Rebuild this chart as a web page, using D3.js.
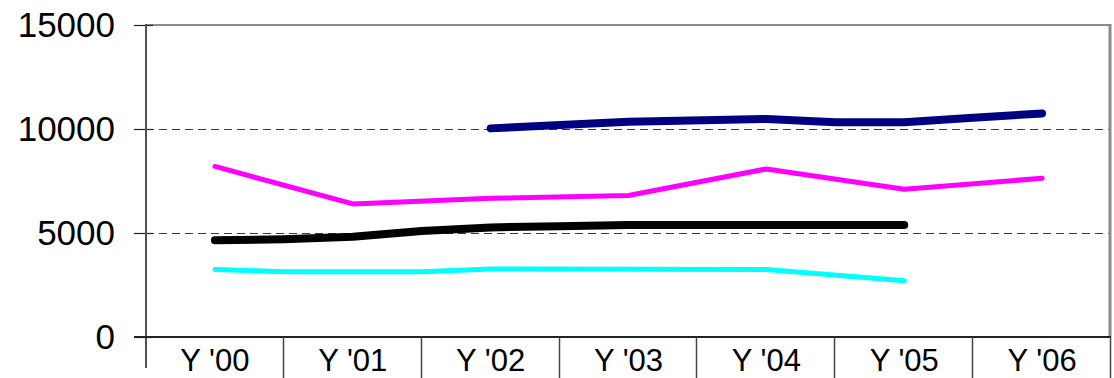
<!DOCTYPE html>
<html>
<head>
<meta charset="utf-8">
<script src="https://cdn.jsdelivr.net/npm/d3@7"></script>
<style>
  html, body { margin: 0; padding: 0; background: #fff; }
  svg { display: block; font-family: "Liberation Sans", Arial, sans-serif; }
</style>
</head>
<body>
<svg id="chart" width="1114" height="378"></svg>
<script>
// Year categories along the bottom axis
const years = ["Y '00", "Y '01", "Y '02", "Y '03", "Y '04", "Y '05", "Y '06"];
const yTicks = [0, 5000, 10000, 15000];
const gridValues = [5000, 10000];

// Each series: position in years from Y '00 (half-year steps allowed) and value
const navyAt      = [2, 3, 4, 4.5, 5, 5.5, 6];
const navyValues  = [10030, 10350, 10480, 10320, 10320, 10540, 10750];

const magentaAt     = [0, 1, 2, 3, 4, 5, 6];
const magentaValues = [8200, 6400, 6670, 6800, 8080, 7100, 7630];

const blackAt     = [0, 0.5, 1, 1.5, 2, 2.5, 3, 5];
const blackValues = [4650, 4700, 4820, 5100, 5270, 5320, 5380, 5380];

const cyanAt     = [0, 0.5, 1.5, 2, 4, 5];
const cyanValues = [3250, 3140, 3140, 3270, 3250, 2700];

const series = [
  { at: cyanAt,    values: cyanValues,    color: "#00ffff", width: 5 },
  { at: blackAt,   values: blackValues,   color: "#000000", width: 8 },
  { at: magentaAt, values: magentaValues, color: "#ff00ff", width: 5 },
  { at: navyAt,    values: navyValues,    color: "#000080", width: 8 }
];

const plot = { left: 146, right: 1111, top: 25, bottom: 337 };

const svg = d3.select("#chart");

const band = d3.scaleBand().domain(years).range([plot.left, plot.right]).padding(0);
const x = d3.scaleLinear().domain([-0.5, years.length - 0.5]).range([plot.left, plot.right]);
const y = d3.scaleLinear().domain([0, 15000]).range([plot.bottom, plot.top]);

// Dashed horizontal gridlines
svg.append("g")
  .selectAll("line")
  .data(gridValues)
  .join("line")
  .attr("x1", plot.left).attr("x2", plot.right - 2)
  .attr("y1", d => Math.round(y(d)) + 0.5).attr("y2", d => Math.round(y(d)) + 0.5)
  .attr("stroke", "#3a3a3a")
  .attr("stroke-width", 1.2)
  .attr("stroke-dasharray", "8,5");

// Series lines
const line = d3.line()
  .x(d => x(d[0]))
  .y(d => y(d[1]));

svg.append("g")
  .selectAll("path")
  .data(series)
  .join("path")
  .attr("d", s => line(s.at.map((t, i) => [t, s.values[i]])))
  .attr("fill", "none")
  .attr("stroke", s => s.color)
  .attr("stroke-width", s => s.width)
  .attr("stroke-linejoin", "round")
  .attr("stroke-linecap", "round");

// Plot frame: grey top and right edges
svg.append("line")
  .attr("x1", plot.left).attr("x2", plot.right)
  .attr("y1", plot.top).attr("y2", plot.top)
  .attr("stroke", "#8c8c8c").attr("stroke-width", 2);
svg.append("line")
  .attr("x1", plot.right - 1).attr("x2", plot.right - 1)
  .attr("y1", plot.top - 1).attr("y2", plot.bottom)
  .attr("stroke", "#8c8c8c").attr("stroke-width", 3);

// Value axis on the left
const yAxis = svg.append("g")
  .attr("transform", `translate(${plot.left},0)`)
  .call(d3.axisLeft(y).tickValues(yTicks).tickSize(12).tickSizeOuter(0).tickPadding(19).tickFormat(d3.format("d")));
yAxis.select(".domain").remove();
yAxis.selectAll(".tick line")
  .attr("x2", -12).attr("x1", 7)
  .attr("stroke", "#222").attr("stroke-width", 1.2);
yAxis.selectAll(".tick text")
  .attr("font-size", 35)
  .attr("fill", "#000")
  .attr("dy", null)
  .attr("y", 11.5);

svg.append("line")
  .attr("x1", plot.left).attr("x2", plot.left)
  .attr("y1", plot.top - 1).attr("y2", 368)
  .attr("stroke", "#505050").attr("stroke-width", 2);

// Category axis along the bottom
const xAxis = svg.append("g")
  .attr("transform", `translate(0,${plot.bottom})`)
  .call(d3.axisBottom(band).tickSize(0).tickPadding(0));
xAxis.select(".domain").remove();
xAxis.selectAll(".tick text")
  .attr("font-size", 31)
  .attr("fill", "#000")
  .attr("dy", null)
  .attr("y", 34);

svg.append("line")
  .attr("x1", plot.left - 12).attr("x2", plot.right)
  .attr("y1", plot.bottom).attr("y2", plot.bottom)
  .attr("stroke", "#222").attr("stroke-width", 2);

// Separators between year categories
const bounds = years.map(d => band(d)).concat([plot.right]).slice(1);
svg.append("g")
  .selectAll("line")
  .data(bounds)
  .join("line")
  .attr("x1", d => Math.round(d) - 0.5).attr("x2", d => Math.round(d) - 0.5)
  .attr("y1", plot.bottom).attr("y2", 378)
  .attr("stroke", "#444").attr("stroke-width", 1.5);
</script>
</body>
</html>
